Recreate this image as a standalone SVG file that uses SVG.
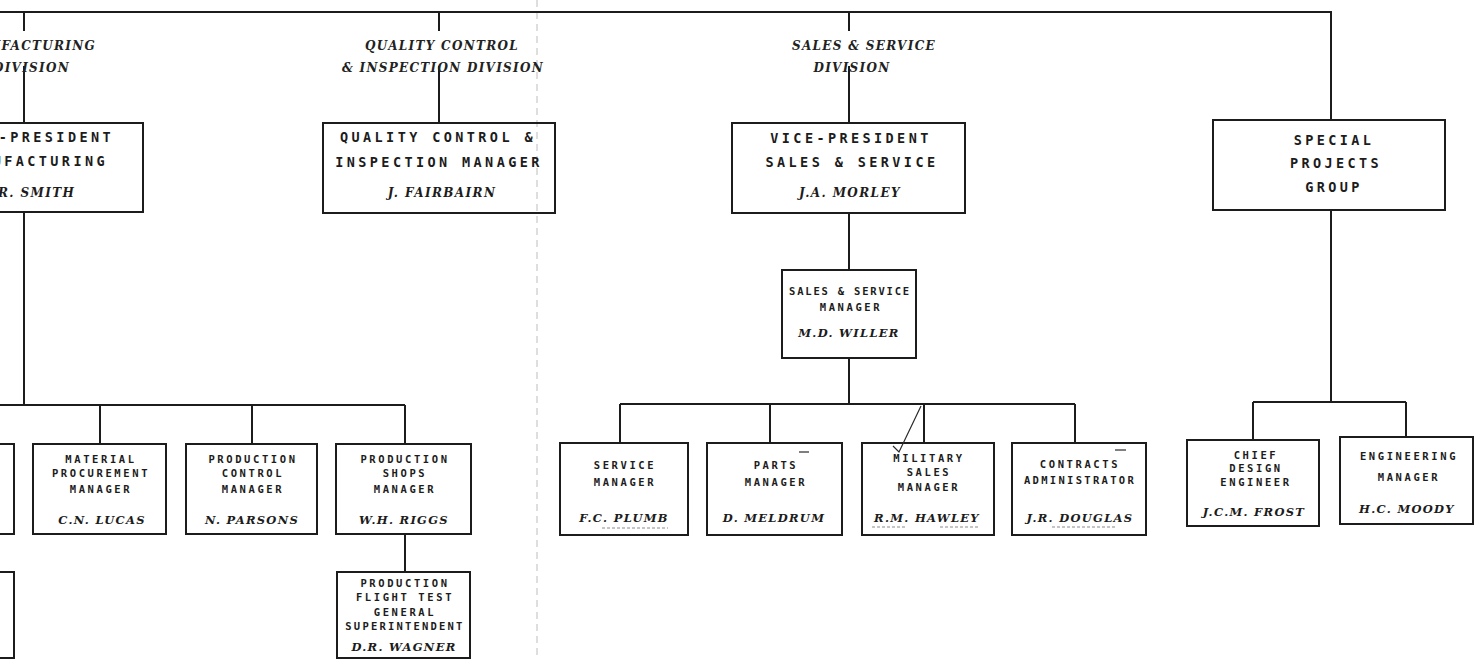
<svg xmlns="http://www.w3.org/2000/svg" width="1482" height="660" viewBox="0 0 1482 660">
<style>
  .bg{fill:#ffffff}
  .box{fill:none;stroke:#1c1c1c;stroke-width:2}
  .ln{fill:none;stroke:#1c1c1c;stroke-width:2}
  .seam{fill:none;stroke:#bdbdbd;stroke-width:1;stroke-dasharray:7 5}
  .mark{fill:none;stroke:#2a2a2a;stroke-width:1.2}
  .faint{fill:none;stroke:#8a8a8a;stroke-width:1;stroke-dasharray:3 2}
  .tl{font-family:"DejaVu Sans Mono","Liberation Mono",monospace;font-size:13.5px;font-weight:bold;fill:#1c1c1c;letter-spacing:3.4px;text-anchor:middle}
  .tm{font-family:"DejaVu Sans Mono","Liberation Mono",monospace;font-size:10.5px;font-weight:bold;fill:#1c1c1c;letter-spacing:2.6px;text-anchor:middle}
  .nl{font-family:"DejaVu Serif","Liberation Serif",serif;font-size:12px;font-weight:bold;font-style:italic;fill:#1c1c1c;letter-spacing:1.4px;text-anchor:middle}
  .nm{font-family:"DejaVu Serif","Liberation Serif",serif;font-size:11.5px;font-weight:bold;font-style:italic;fill:#1c1c1c;letter-spacing:1.3px;text-anchor:middle}
  .dv{font-family:"DejaVu Serif","Liberation Serif",serif;font-size:12px;font-weight:bold;font-style:italic;fill:#222222;letter-spacing:1.3px;text-anchor:middle}
</style>
<rect class="bg" x="0" y="0" width="1482" height="660"/>
<line class="seam" x1="537" y1="0" x2="537" y2="660"/>

<g id="connectors">
  <path class="ln" d="M0 12 H1331 V120"/>
  <path class="ln" d="M24 12 V31 M24 66 V123"/>
  <path class="ln" d="M439 12 V31 M439 66 V123"/>
  <path class="ln" d="M849 12 V31 M849 66 V123"/>
  <path class="ln" d="M24 212 V405 M0 405 H405 M100 405 V444 M252 405 V444 M405 405 V444"/>
  <path class="ln" d="M405 534 V572"/>
  <path class="ln" d="M849 213 V270 M849 358 V404 M620 404 H1075 M620 404 V443 M770 404 V443 M924 404 V443 M1075 404 V443"/>
  <path class="ln" d="M1331 210 V402 M1253 402 H1406 M1253 402 V440 M1406 402 V437"/>
</g>

<g id="div-labels">
  <text class="dv" x="96" y="50" style="text-anchor:end">MANUFACTURING</text>
  <text class="dv" x="70" y="72" style="text-anchor:end">DIVISION</text>
  <text class="dv" x="442" y="50">QUALITY CONTROL</text>
  <text class="dv" x="443" y="72">&amp; INSPECTION DIVISION</text>
  <text class="dv" x="864" y="50">SALES &amp; SERVICE</text>
  <text class="dv" x="852" y="72">DIVISION</text>
</g>

<g id="vp-manufacturing">
  <rect class="box" x="-100" y="123" width="243" height="89"/>
  <text class="tl" x="114" y="142" style="text-anchor:end">VICE-PRESIDENT</text>
  <text class="tl" x="108" y="166" style="text-anchor:end">MANUFACTURING</text>
  <text class="nl" x="-2" y="197" style="text-anchor:start">R. SMITH</text>
</g>

<g id="qc-manager">
  <rect class="box" x="323" y="123" width="232" height="90"/>
  <text class="tl" x="438" y="142">QUALITY CONTROL &amp;</text>
  <text class="tl" x="439" y="167">INSPECTION MANAGER</text>
  <text class="nl" x="442" y="197">J. FAIRBAIRN</text>
</g>

<g id="vp-sales">
  <rect class="box" x="732" y="123" width="233" height="90"/>
  <text class="tl" x="851" y="143">VICE-PRESIDENT</text>
  <text class="tl" x="852" y="167">SALES &amp; SERVICE</text>
  <text class="nl" x="850" y="197">J.A. MORLEY</text>
</g>

<g id="special-projects">
  <rect class="box" x="1213" y="120" width="232" height="90"/>
  <text class="tl" x="1334" y="145">SPECIAL</text>
  <text class="tl" x="1336" y="168">PROJECTS</text>
  <text class="tl" x="1334" y="192">GROUP</text>
</g>

<g id="left-box-1">
  <path class="box" d="M0 444 H14 V534 H0"/>
</g>
<g id="left-box-2">
  <path class="box" d="M0 572 H14 V658 H0"/>
</g>

<g id="material-procurement">
  <rect class="box" x="33" y="444" width="133" height="90"/>
  <text class="tm" x="101" y="463">MATERIAL</text>
  <text class="tm" x="101" y="477">PROCUREMENT</text>
  <text class="tm" x="101" y="493">MANAGER</text>
  <text class="nm" x="102" y="524">C.N. LUCAS</text>
</g>

<g id="production-control">
  <rect class="box" x="186" y="444" width="131" height="90"/>
  <text class="tm" x="253" y="463">PRODUCTION</text>
  <text class="tm" x="253" y="477">CONTROL</text>
  <text class="tm" x="253" y="493">MANAGER</text>
  <text class="nm" x="252" y="524">N. PARSONS</text>
</g>

<g id="production-shops">
  <rect class="box" x="336" y="444" width="135" height="90"/>
  <text class="tm" x="405" y="463">PRODUCTION</text>
  <text class="tm" x="405" y="477">SHOPS</text>
  <text class="tm" x="405" y="493">MANAGER</text>
  <text class="nm" x="404" y="524">W.H. RIGGS</text>
</g>

<g id="flight-test">
  <rect class="box" x="337" y="572" width="133" height="86"/>
  <text class="tm" x="405" y="587">PRODUCTION</text>
  <text class="tm" x="405" y="601">FLIGHT TEST</text>
  <text class="tm" x="405" y="616">GENERAL</text>
  <text class="tm" x="405" y="630" style="letter-spacing:2.2px">SUPERINTENDENT</text>
  <text class="nm" x="404" y="651">D.R. WAGNER</text>
</g>

<g id="sales-service-manager">
  <rect class="box" x="782" y="270" width="134" height="88"/>
  <text class="tm" x="850" y="295" style="letter-spacing:1.8px">SALES &amp; SERVICE</text>
  <text class="tm" x="851" y="311">MANAGER</text>
  <text class="nm" x="849" y="337">M.D. WILLER</text>
</g>

<g id="service-manager">
  <rect class="box" x="560" y="443" width="128" height="92"/>
  <text class="tm" x="625" y="469">SERVICE</text>
  <text class="tm" x="625" y="486">MANAGER</text>
  <text class="nm" x="624" y="522">F.C. PLUMB</text>
  <path class="faint" d="M602 528 H668"/>
</g>

<g id="parts-manager">
  <rect class="box" x="707" y="443" width="135" height="92"/>
  <text class="tm" x="776" y="469">PARTS</text>
  <text class="tm" x="776" y="486">MANAGER</text>
  <text class="nm" x="774" y="522">D. MELDRUM</text>
  <path class="mark" d="M799 452 H809"/>
</g>

<g id="military-sales">
  <rect class="box" x="862" y="443" width="132" height="92"/>
  <text class="tm" x="929" y="462">MILITARY</text>
  <text class="tm" x="929" y="476">SALES</text>
  <text class="tm" x="929" y="491">MANAGER</text>
  <text class="nm" x="927" y="522">R.M. HAWLEY</text>
  <path class="mark" d="M921 406 L899 452 L893 446"/>
  <path class="faint" d="M872 527 H906 M940 527 H978"/>
</g>

<g id="contracts-administrator">
  <rect class="box" x="1012" y="443" width="134" height="92"/>
  <text class="tm" x="1080" y="468">CONTRACTS</text>
  <text class="tm" x="1080" y="484" style="letter-spacing:2.3px">ADMINISTRATOR</text>
  <text class="nm" x="1080" y="522">J.R. DOUGLAS</text>
  <path class="mark" d="M1115 450 H1126"/>
  <path class="faint" d="M1052 527 H1115"/>
</g>

<g id="chief-design-engineer">
  <rect class="box" x="1187" y="440" width="132" height="86"/>
  <text class="tm" x="1256" y="459">CHIEF</text>
  <text class="tm" x="1256" y="472">DESIGN</text>
  <text class="tm" x="1256" y="486">ENGINEER</text>
  <text class="nm" x="1254" y="516">J.C.M. FROST</text>
</g>

<g id="engineering-manager">
  <rect class="box" x="1340" y="437" width="133" height="87"/>
  <text class="tm" x="1409" y="460">ENGINEERING</text>
  <text class="tm" x="1409" y="481">MANAGER</text>
  <text class="nm" x="1407" y="513">H.C. MOODY</text>
</g>
</svg>
